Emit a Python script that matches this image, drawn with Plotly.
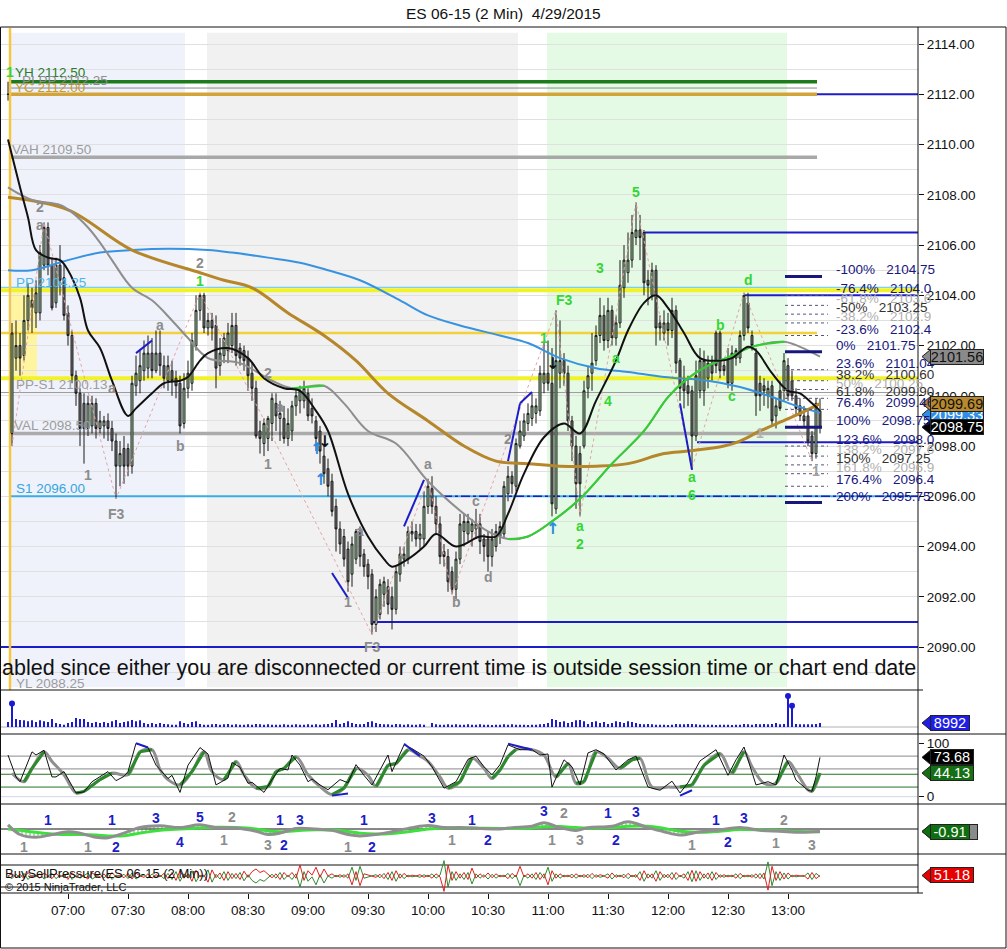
import pandas as pd
import plotly.graph_objects as go

DAY = "2015-04-29"
FIRST_BAR = "06:30"

# ---- 2 min bars, ES 06-15, first bar 06:30 (rows of 10 bars) ----
OPEN = [
    2112.0, 2098.5, 2101.5, 2102.0, 2101.6, 2103.0, 2103.8, 2103.3, 2103.3, 2105.2,
    2106.7, 2105.2, 2103.7, 2105.2, 2104.7, 2103.3, 2102.4, 2100.8, 2100.1, 2099.7,
    2098.7, 2098.8, 2099.7, 2098.7, 2098.8, 2099.0, 2098.7, 2098.2, 2097.2, 2097.9,
    2097.9, 2097.2, 2100.4, 2100.6, 2101.0, 2101.1, 2101.7, 2101.0, 2101.7, 2101.2,
    2100.6, 2101.0, 2100.7, 2100.5, 2098.9, 2100.3, 2100.5, 2102.0, 2103.4, 2104.0,
    2102.7, 2103.0, 2102.8, 2101.2, 2101.6, 2101.8, 2102.0, 2102.8, 2101.9, 2101.8,
    2101.5, 2100.9, 2100.3, 2098.6, 2098.1, 2098.3, 2098.9, 2099.7, 2099.1, 2099.1,
    2098.3, 2098.6, 2099.6, 2099.8, 2099.8, 2100.1, 2099.5, 2099.0, 2098.6, 2097.6,
    2097.1, 2096.6, 2095.6, 2094.7, 2094.4, 2093.9, 2092.9, 2093.5, 2094.6, 2093.7,
    2093.3, 2092.9, 2090.9, 2091.3, 2092.1, 2092.4, 2092.0, 2091.5, 2092.9, 2093.5,
    2093.5, 2094.5, 2094.6, 2094.3, 2094.3, 2095.6, 2096.3, 2095.6, 2094.9, 2093.8,
    2093.6, 2093.0, 2092.3, 2093.5, 2094.6, 2094.5, 2094.6, 2094.7, 2094.9, 2094.3,
    2094.3, 2093.6, 2094.0, 2094.4, 2094.5, 2096.1, 2096.8, 2096.4, 2098.0, 2098.4,
    2098.9, 2099.1, 2099.3, 2099.4, 2100.5, 2100.9, 2100.5, 2095.5, 2100.9, 2101.4,
    2100.9, 2099.0, 2098.0, 2097.7, 2098.0, 2100.3, 2100.9, 2101.4, 2102.4, 2103.2,
    2102.2, 2103.4, 2102.3, 2102.9, 2104.3, 2104.9, 2105.4, 2106.3, 2106.6, 2106.5,
    2104.6, 2104.0, 2105.0, 2102.9, 2102.5, 2102.9, 2102.6, 2103.4, 2101.4, 2100.6,
    2100.4, 2100.2, 2098.4, 2100.2, 2100.2, 2100.7, 2101.3, 2102.5, 2102.5, 2101.2,
    2101.5, 2100.5, 2101.5, 2101.5, 2102.4, 2103.7, 2102.4, 2101.7, 2100.5, 2100.4,
    2100.0, 2100.4, 2099.2, 2100.2, 2100.2, 2101.2, 2100.6, 2100.0, 2099.6, 2099.2,
    2099.2, 2098.4, 2097.7, 2099.4,
]
HIGH = [
    2112.5, 2102.9, 2103.0, 2102.5, 2104.0, 2104.5, 2104.3, 2104.6, 2106.0, 2106.9,
    2106.9, 2105.5, 2105.5, 2106.0, 2105.2, 2103.6, 2102.6, 2101.0, 2100.3, 2100.1,
    2100.0, 2100.0, 2099.9, 2099.4, 2099.2, 2099.3, 2099.0, 2098.5, 2098.2, 2098.4,
    2098.1, 2100.8, 2101.6, 2101.8, 2102.2, 2102.4, 2102.3, 2102.6, 2102.6, 2101.6,
    2101.6, 2101.4, 2101.0, 2100.8, 2100.9, 2101.4, 2102.5, 2104.0, 2104.1, 2104.1,
    2103.3, 2103.3, 2103.2, 2102.3, 2102.5, 2102.9, 2103.3, 2103.3, 2102.1, 2102.0,
    2101.8, 2101.3, 2100.6, 2099.0, 2099.1, 2099.2, 2100.1, 2100.1, 2099.8, 2099.6,
    2099.5, 2099.8, 2100.3, 2100.4, 2100.6, 2100.3, 2099.9, 2099.2, 2098.8, 2098.0,
    2097.5, 2096.9, 2095.9, 2095.0, 2094.7, 2094.2, 2094.4, 2094.7, 2094.8, 2093.9,
    2093.5, 2093.1, 2092.3, 2092.7, 2092.8, 2092.7, 2092.4, 2093.2, 2094.0, 2094.0,
    2094.8, 2095.0, 2094.9, 2094.9, 2096.2, 2096.7, 2096.8, 2096.0, 2095.2, 2094.1,
    2093.9, 2093.2, 2093.8, 2095.3, 2095.3, 2095.3, 2095.1, 2095.5, 2095.3, 2094.5,
    2094.6, 2094.7, 2094.9, 2095.0, 2096.6, 2097.2, 2097.0, 2098.3, 2099.0, 2099.3,
    2099.7, 2100.1, 2099.9, 2101.2, 2102.1, 2102.2, 2101.9, 2103.4, 2103.0, 2101.7,
    2101.2, 2099.2, 2098.4, 2098.0, 2100.6, 2101.2, 2102.5, 2102.8, 2103.9, 2103.6,
    2103.9, 2103.6, 2103.2, 2105.4, 2106.0, 2106.5, 2107.2, 2107.7, 2107.2, 2106.6,
    2105.0, 2105.3, 2105.2, 2103.2, 2103.4, 2103.3, 2103.9, 2103.6, 2101.5, 2101.2,
    2100.8, 2100.4, 2101.4, 2101.9, 2101.8, 2101.6, 2101.6, 2102.6, 2102.6, 2101.5,
    2101.9, 2102.0, 2101.9, 2102.6, 2104.1, 2104.1, 2102.6, 2101.9, 2100.8, 2100.7,
    2100.6, 2100.6, 2099.9, 2100.6, 2101.7, 2101.5, 2101.0, 2100.3, 2099.9, 2099.6,
    2099.5, 2098.6, 2099.9, 2099.9,
]
LOW = [
    2111.75, 2098.0, 2101.0, 2100.8, 2101.4, 2102.6, 2102.5, 2102.7, 2103.0, 2105.0,
    2104.8, 2103.4, 2103.5, 2104.0, 2103.0, 2102.0, 2100.5, 2099.6, 2098.0, 2097.3,
    2098.4, 2098.5, 2098.3, 2098.5, 2098.3, 2098.2, 2097.8, 2095.9, 2096.4, 2096.5,
    2096.8, 2096.9, 2100.0, 2100.1, 2100.6, 2100.7, 2100.7, 2100.9, 2100.8, 2100.3,
    2100.2, 2100.0, 2099.9, 2098.5, 2098.7, 2099.9, 2100.2, 2101.8, 2103.0, 2102.5,
    2102.4, 2102.2, 2100.3, 2100.8, 2101.3, 2101.3, 2101.7, 2101.2, 2101.2, 2101.0,
    2100.2, 2099.8, 2098.3, 2097.7, 2097.6, 2097.8, 2098.2, 2098.6, 2098.2, 2098.1,
    2098.0, 2098.2, 2099.2, 2099.3, 2099.5, 2099.0, 2098.9, 2097.8, 2097.3, 2096.5,
    2096.0, 2095.2, 2093.8, 2093.7, 2093.2, 2092.2, 2092.4, 2093.3, 2093.2, 2092.8,
    2092.3, 2090.5, 2090.6, 2091.1, 2091.6, 2091.3, 2090.7, 2091.3, 2092.6, 2093.2,
    2093.3, 2094.2, 2094.0, 2093.9, 2094.0, 2095.3, 2095.3, 2094.5, 2093.3, 2093.2,
    2092.2, 2092.1, 2091.9, 2093.3, 2094.0, 2094.2, 2094.0, 2094.3, 2093.7, 2093.4,
    2093.0, 2093.2, 2093.8, 2094.1, 2094.3, 2095.8, 2096.1, 2096.2, 2097.9, 2098.2,
    2098.6, 2098.8, 2098.9, 2099.2, 2100.1, 2100.2, 2095.2, 2095.3, 2100.3, 2100.4,
    2098.6, 2097.4, 2095.5, 2095.2, 2097.9, 2099.9, 2100.2, 2101.2, 2102.1, 2101.8,
    2101.9, 2102.0, 2102.0, 2102.7, 2103.9, 2104.5, 2105.1, 2106.0, 2105.4, 2104.0,
    2103.6, 2103.8, 2102.0, 2102.2, 2102.2, 2102.0, 2102.3, 2100.9, 2099.8, 2099.5,
    2099.6, 2097.1, 2098.2, 2099.9, 2099.6, 2100.3, 2100.6, 2100.9, 2100.7, 2100.8,
    2100.3, 2100.2, 2101.2, 2101.3, 2102.2, 2102.5, 2101.8, 2099.2, 2099.4, 2099.6,
    2099.5, 2098.8, 2098.7, 2099.4, 2099.8, 2099.8, 2099.8, 2099.2, 2099.0, 2098.8,
    2098.0, 2097.4, 2097.5, 2098.5,
]
CLOSE = [
    2112.0, 2102.5, 2102.0, 2101.5, 2103.0, 2104.0, 2103.5, 2104.1, 2105.7, 2106.7,
    2105.2, 2103.5, 2105.2, 2104.6, 2103.2, 2102.4, 2100.8, 2100.1, 2098.7, 2098.7,
    2099.7, 2099.7, 2098.7, 2099.0, 2099.0, 2098.7, 2098.2, 2097.2, 2097.7, 2097.2,
    2097.2, 2100.5, 2100.9, 2101.2, 2101.7, 2101.7, 2101.0, 2101.7, 2101.2, 2100.7,
    2101.2, 2100.6, 2100.4, 2098.8, 2100.3, 2100.9, 2102.2, 2103.4, 2104.0, 2102.7,
    2103.0, 2102.7, 2101.1, 2101.7, 2102.3, 2102.5, 2102.8, 2101.6, 2101.5, 2101.4,
    2100.8, 2100.3, 2098.4, 2098.3, 2098.9, 2099.1, 2099.9, 2099.2, 2099.3, 2098.3,
    2098.9, 2099.6, 2100.0, 2100.2, 2100.3, 2099.2, 2099.2, 2098.3, 2097.8, 2096.9,
    2096.4, 2095.4, 2094.7, 2094.1, 2093.5, 2092.6, 2094.1, 2094.6, 2093.6, 2093.2,
    2092.8, 2090.9, 2092.0, 2092.5, 2092.6, 2091.7, 2091.5, 2093.0, 2093.7, 2093.7,
    2094.6, 2094.6, 2094.3, 2094.5, 2095.6, 2096.4, 2095.6, 2094.9, 2093.6, 2093.6,
    2092.6, 2092.3, 2093.5, 2094.9, 2095.0, 2095.0, 2094.9, 2094.9, 2094.2, 2094.0,
    2093.6, 2094.3, 2094.6, 2094.8, 2096.4, 2096.8, 2096.5, 2098.1, 2098.6, 2099.0,
    2099.3, 2099.6, 2099.6, 2100.9, 2100.9, 2100.5, 2095.7, 2101.4, 2101.4, 2100.9,
    2099.0, 2098.0, 2096.5, 2096.5, 2100.2, 2100.8, 2101.3, 2102.4, 2103.2, 2102.2,
    2103.4, 2102.3, 2102.9, 2104.4, 2105.4, 2105.4, 2106.5, 2106.6, 2106.3, 2104.5,
    2104.4, 2105.0, 2102.7, 2102.7, 2102.9, 2102.6, 2103.4, 2101.3, 2100.3, 2100.2,
    2100.1, 2098.4, 2100.8, 2101.4, 2101.4, 2101.3, 2100.9, 2101.2, 2101.0, 2101.0,
    2100.5, 2101.7, 2101.8, 2102.4, 2104.0, 2102.7, 2102.0, 2100.0, 2100.0, 2100.2,
    2100.3, 2099.0, 2099.6, 2099.5, 2101.4, 2100.0, 2100.0, 2099.5, 2099.2, 2099.0,
    2098.2, 2097.7, 2099.7, 2098.75,
]
# volume per bar, thousands of contracts
VOLUME = [
    11, 50, 18, 16, 15, 13, 15, 11, 15, 13,
    11, 18, 9, 7, 5, 9, 11, 20, 18, 18,
    11, 9, 11, 9, 11, 9, 13, 16, 9, 11,
    13, 16, 13, 15, 9, 7, 9, 7, 9, 7,
    6, 5, 5, 13, 9, 7, 11, 13, 7, 5,
    5, 6, 7, 5, 6, 7, 5, 6, 5, 5,
    6, 5, 7, 6, 5, 6, 5, 5, 5, 6,
    5, 5, 6, 5, 5, 6, 5, 6, 5, 6,
    7, 9, 16, 7, 9, 13, 9, 7, 6, 7,
    11, 13, 9, 7, 6, 6, 5, 7, 6, 5,
    6, 5, 5, 6, 5, 0, 9, 6, 5, 5,
    6, 5, 6, 5, 5, 6, 5, 5, 6, 5,
    5, 4, 5, 5, 6, 5, 6, 5, 5, 5,
    4, 5, 5, 6, 7, 9, 18, 16, 11, 13,
    9, 11, 15, 16, 13, 7, 11, 13, 9, 11,
    7, 9, 13, 11, 9, 13, 11, 9, 7, 6,
    7, 6, 5, 5, 5, 4, 5, 7, 6, 6,
    7, 7, 6, 5, 5, 5, 5, 4, 5, 5,
    5, 4, 5, 5, 7, 6, 5, 7, 6, 7,
    6, 7, 9, 6, 7, 67, 45, 7, 6, 6,
    6, 6, 7, 9,
]
# BuySellPressure, red and green lines per bar
BSP_RED = [
    50, 56, 46, 54, 44, 58, 48, 52, 45, 57,
    50, 44, 56, 48, 53, 42, 58, 47, 55, 49,
    43, 57, 51, 46, 55, 44, 58, 48, 52, 46,
    56, 43, 57, 50, 47, 55, 45, 53, 48, 56,
    44, 58, 40, 62, 45, 55, 38, 63, 48, 52,
    36, 64, 46, 57, 40, 60, 44, 56, 42, 61,
    47, 60, 66, 58, 62, 54, 46, 55, 42, 58,
    48, 58, 45, 75, 40, 62, 52, 70, 47, 66,
    50, 55, 48, 53, 47, 55, 30, 60, 28, 55,
    52, 50, 47, 54, 44, 58, 40, 62, 45, 56,
    48, 52, 50, 53, 47, 52, 45, 55, 48, 15,
    75, 40, 60, 45, 58, 42, 68, 45, 55, 47,
    57, 46, 55, 48, 52, 44, 56, 48, 72, 48,
    55, 45, 58, 42, 55, 30, 62, 45, 55, 48,
    52, 46, 55, 48, 53, 46, 56, 47, 53, 50,
    45, 57, 47, 52, 46, 56, 48, 53, 40, 62,
    45, 55, 38, 60, 46, 54, 42, 58, 48, 55,
    40, 63, 38, 60, 45, 57, 40, 58, 47, 53,
    48, 52, 45, 56, 48, 52, 47, 55, 44, 57,
    18, 72, 40, 60, 43, 57, 48, 52, 50, 51,
    43, 58, 44, 51.18,
]
BSP_GREEN = [
    50, 44, 54, 46, 56, 42, 52, 48, 55, 43,
    50, 56, 44, 52, 47, 58, 42, 53, 45, 51,
    57, 43, 49, 54, 45, 56, 42, 52, 48, 54,
    44, 57, 43, 50, 53, 45, 55, 47, 52, 44,
    56, 42, 60, 38, 55, 45, 62, 37, 52, 48,
    64, 36, 54, 43, 60, 40, 56, 44, 58, 39,
    53, 40, 34, 42, 38, 46, 54, 45, 58, 42,
    52, 42, 55, 25, 60, 38, 48, 30, 53, 34,
    50, 45, 52, 47, 53, 45, 70, 40, 72, 45,
    48, 50, 53, 46, 56, 42, 60, 38, 55, 44,
    52, 48, 50, 47, 53, 48, 55, 45, 52, 85,
    25, 60, 40, 55, 42, 58, 32, 55, 45, 53,
    43, 54, 45, 52, 48, 56, 44, 52, 28, 52,
    45, 55, 42, 58, 45, 70, 38, 55, 45, 52,
    48, 54, 45, 52, 47, 54, 44, 53, 47, 50,
    55, 43, 53, 48, 54, 44, 52, 47, 60, 38,
    55, 45, 62, 40, 54, 46, 58, 42, 52, 45,
    60, 37, 62, 40, 55, 43, 60, 42, 53, 47,
    52, 48, 55, 44, 52, 48, 53, 45, 56, 43,
    82, 28, 60, 40, 57, 43, 52, 48, 50, 49,
    57, 42, 56, 48.82,
]

# ---- moving averages ----
BLACK_T = ["06:30", "06:36", "06:40", "06:44", "06:50", "06:56", "07:00", "07:06", "07:10", "07:16",
           "07:22", "07:30", "07:34", "07:42", "07:48", "07:56", "08:00", "08:06", "08:10", "08:20",
           "08:30", "08:38", "08:48", "08:56", "09:04", "09:10", "09:20", "09:30", "09:38", "09:42",
           "09:50", "09:58", "10:04", "10:14", "10:26", "10:34", "10:40", "10:48", "10:58", "11:08",
           "11:16", "11:24", "11:34", "11:40", "11:48", "11:54", "12:00", "12:08", "12:16", "12:26",
           "12:32", "12:40", "12:44", "12:52", "13:00", "13:06", "13:12", "13:16"]
BLACK_V = [2110.2, 2108.3, 2107.1, 2105.8, 2105.5, 2105.4, 2105.0, 2103.9, 2102.6, 2101.9,
           2100.6, 2099.2, 2099.5, 2100.1, 2100.5, 2100.6, 2100.75, 2101.4, 2101.7, 2101.9,
           2101.5, 2100.7, 2100.3, 2100.2, 2099.4, 2098.6, 2096.1, 2094.4, 2093.5, 2093.2,
           2093.5, 2094.0, 2094.5, 2094.0, 2094.4, 2094.4, 2095.3, 2096.9, 2098.35, 2098.9,
           2098.5, 2099.8, 2101.4, 2102.6, 2103.7, 2104.0, 2103.5, 2102.5, 2101.5, 2101.4,
           2101.5, 2101.95, 2101.8, 2100.9, 2100.2, 2100.1, 2099.7, 2099.4]
MID_T = ["06:30", "06:42", "06:56", "07:02", "07:10", "07:16", "07:22", "07:32", "07:42", "07:52",
         "08:00", "08:10", "08:26", "08:42", "08:52", "09:08", "09:18", "09:30", "09:44", "10:00",
         "10:18", "10:30", "10:40", "10:50", "11:02", "11:16", "11:32", "11:48", "12:00", "12:10",
         "12:20", "12:32", "12:42", "12:58", "13:06", "13:16"]
MID_V = [2108.3, 2107.8, 2107.6, 2107.3, 2106.7, 2106.1, 2105.4, 2104.3, 2103.8, 2103.0,
         2102.3, 2101.5, 2101.3, 2100.6, 2100.3, 2100.4, 2099.7, 2098.6, 2098.1, 2096.6,
         2095.3, 2094.6, 2094.3, 2094.4, 2095.0, 2095.9, 2097.3, 2098.6, 2099.95, 2100.7,
         2101.2, 2101.6, 2101.95, 2102.15, 2101.95, 2101.56]
MID_GREEN_SPANS = [("08:52", "09:08"), ("10:40", "12:58")]
SLOW_T = ["06:30", "07:00", "07:32", "08:06", "08:18", "08:32", "08:50", "09:08", "09:24", "09:40",
          "10:00", "10:18", "10:34", "10:50", "11:06", "11:24", "11:40", "11:58", "12:10", "12:28",
          "12:36", "12:46", "12:56", "13:06", "13:16"]
SLOW_V = [2107.9, 2107.4, 2105.8, 2104.9, 2104.6, 2104.3, 2103.3, 2102.4, 2101.4, 2100.1,
          2099.0, 2098.0, 2097.4, 2097.3, 2097.2, 2097.2, 2097.3, 2097.7, 2097.8, 2098.0,
          2098.2, 2098.6, 2098.95, 2099.3, 2099.69]
BLUE_T = ["06:30", "06:42", "07:00", "07:16", "07:32", "07:50", "08:10", "08:22", "08:40", "08:56",
          "09:10", "09:26", "09:46", "10:00", "10:16", "10:36", "10:50", "11:06", "11:24", "11:40",
          "11:58", "12:20", "12:36", "12:52", "13:06", "13:16"]
BLUE_V = [2105.0, 2105.0, 2105.4, 2105.7, 2105.8, 2105.85, 2105.8, 2105.7, 2105.5, 2105.3,
          2105.0, 2104.6, 2103.8, 2103.2, 2102.8, 2102.4, 2102.1, 2101.5, 2101.1, 2100.95,
          2100.75, 2100.6, 2100.35, 2099.95, 2099.55, 2099.33]

# ---- stochastics ----
FAST_T = ["06:30", "06:34", "06:36", "06:42", "06:44", "06:48", "06:52", "06:54", "06:58", "07:04",
          "07:08", "07:12", "07:20", "07:24", "07:28", "07:30", "07:34", "07:40", "07:44", "07:50",
          "07:52", "07:56", "08:00", "08:06", "08:10", "08:14", "08:20", "08:22", "08:26", "08:30",
          "08:32", "08:38", "08:42", "08:46", "08:50", "08:52", "08:56", "09:00", "09:02", "09:06",
          "09:10", "09:16", "09:20", "09:24", "09:28", "09:32", "09:40", "09:42", "09:48", "09:52",
          "09:58", "10:02", "10:08", "10:14", "10:20", "10:24", "10:28", "10:32", "10:36", "10:40",
          "10:46", "10:52", "10:56", "11:00", "11:02", "11:08", "11:12", "11:16", "11:20", "11:24",
          "11:28", "11:34", "11:40", "11:44", "11:50", "11:56", "12:02", "12:06", "12:10", "12:16",
          "12:24", "12:30", "12:34", "12:38", "12:44", "12:50", "12:54", "12:58", "13:02", "13:04",
          "13:10", "13:12", "13:14", "13:16"]
FAST_V = [78, 37, 28, 84, 78, 87, 37, 37, 47, 7,
          9, 28, 47, 30, 38, 47, 100, 92, 59, 34,
          40, 8, 59, 92, 80, 22, 35, 64, 55, 25,
          27, 8, 32, 53, 50, 78, 59, 28, 33, 22,
          13, 32, 26, 60, 40, 22, 78, 47, 97, 90,
          76, 56, 16, 28, 70, 76, 56, 41, 60, 97,
          88, 88, 78, 80, 18, 69, 56, 22, 82, 88,
          80, 50, 69, 76, 18, 12, 29, 7, 26, 67,
          88, 40, 69, 93, 22, 28, 22, 78, 50, 31,
          12, 10, 37, 73.68]
SLOWK_T = ["06:32", "06:38", "06:42", "06:48", "06:52", "06:58", "07:04", "07:08", "07:16", "07:22",
           "07:30", "07:36", "07:42", "07:46", "07:50", "07:56", "08:02", "08:08", "08:12", "08:18",
           "08:24", "08:28", "08:34", "08:40", "08:44", "08:48", "08:54", "09:00", "09:06", "09:12",
           "09:18", "09:24", "09:30", "09:34", "09:40", "09:44", "09:50", "09:56", "10:00", "10:06",
           "10:10", "10:16", "10:22", "10:28", "10:32", "10:36", "10:40", "10:44", "10:52", "10:58",
           "11:04", "11:10", "11:14", "11:18", "11:24", "11:30", "11:36", "11:42", "11:46", "11:52",
           "12:00", "12:06", "12:12", "12:18", "12:26", "12:32", "12:38", "12:42", "12:48", "12:54",
           "13:00", "13:04", "13:10", "13:12", "13:16"]
SLOWK_V = [44, 28, 53, 84, 66, 41, 7, 10, 32, 44,
           41, 84, 88, 51, 32, 22, 47, 84, 47, 32,
           66, 41, 16, 19, 47, 53, 75, 41, 19, 4,
           16, 53, 40, 19, 59, 62, 88, 76, 66, 37,
           16, 28, 72, 53, 34, 50, 75, 88, 88, 78,
           37, 62, 25, 28, 84, 72, 53, 69, 72, 18,
           18, 18, 22, 59, 81, 44, 84, 56, 25, 25,
           66, 47, 13, 10, 44.13]
STOCH_LEVELS_GRAY = [76, 52]
STOCH_LEVELS_GREEN = [42, 18]

# ---- MACD style panel ----
MACD_T = ["06:30", "06:36", "06:44", "06:52", "07:00", "07:06", "07:14", "07:20", "07:28", "07:36",
          "07:46", "07:56", "08:06", "08:14", "08:24", "08:34", "08:40", "08:46", "08:54", "09:04",
          "09:12", "09:20", "09:26", "09:34", "09:42", "09:52", "10:00", "10:08", "10:16", "10:26",
          "10:36", "10:42", "10:52", "10:58", "11:06", "11:14", "11:20", "11:32", "11:40", "11:50",
          "11:58", "12:06", "12:16", "12:24", "12:36", "12:46", "12:56", "13:06", "13:16"]
MACD_V = [1.5, -2.0, -3.0, -2.0, -1.0, -1.5, -3.0, -3.2, -1.5, 0.6,
          1.2, 0.5, 1.5, 0.5, 0.4, -0.8, -2.0, -1.5, 0.2, 0.0,
          -0.5, -2.0, -2.5, -2.0, -1.0, 0.5, 1.3, 0.5, 0.5, 0.2,
          0.0, 0.5, 1.0, 2.3, 0.5, -0.5, 0.5, 1.0, 2.6, 0.5,
          -1.0, -2.2, -1.0, -0.5, 0.5, -0.5, -0.8, -1.2, -0.91]
SIGNAL_V = [0.0, -0.5, -1.2, -1.8, -2.0, -2.0, -2.2, -2.5, -2.5, -1.5,
            -0.5, 0.0, 0.4, 0.6, 0.5, 0.0, -0.7, -1.0, -0.6, -0.3,
            -0.4, -0.9, -1.5, -1.8, -1.6, -0.8, 0.0, 0.4, 0.4, 0.3,
            0.2, 0.2, 0.4, 0.8, 0.9, 0.5, 0.3, 0.5, 1.0, 1.0,
            0.2, -0.8, -1.2, -0.9, -0.2, -0.3, -0.6, -0.9, -1.0]

# ---- swing zigzag and trend segments ----
SWING_T = ["06:32", "06:48", "07:24", "08:06", "09:32", "10:00", "10:12", "11:04", "11:16",
           "11:44", "12:12", "12:38", "13:12"]
SWING_P = [2098.0, 2106.9, 2095.9, 2104.1, 2090.5, 2096.7, 2092.1, 2103.4, 2095.2,
           2107.7, 2097.1, 2104.1, 2097.4]
TREND_T0 = ["07:34", "09:12", "09:48", "10:40", "10:46", "12:06"]
TREND_P0 = [2101.7, 2092.95, 2094.8, 2097.4, 2099.7, 2099.7]
TREND_T1 = ["07:42", "09:20", "09:58", "10:46", "10:52", "12:12"]
TREND_P1 = [2102.2, 2091.95, 2096.65, 2099.7, 2100.15, 2097.05]

# ---- fibonacci block on the right ----
FIB_PCT = ["-100%", "-76.4%", "-61.8%", "-50%", "-38.2%", "-23.6%", "0%", "23.6%", "38.2%", "50%",
           "61.8%", "76.4%", "100%", "123.6%", "138.2%", "150%", "161.8%", "176.4%", "200%"]
FIB_VAL = ["2104.75", "2104.0", "2103.6", "2103.25", "2102.9", "2102.4", "2101.75", "2101.04", "2100.60",
           "2100.25", "2099.90", "2099.46", "2098.75", "2098.0", "2097.6", "2097.25", "2096.9", "2096.4",
           "2095.75"]
FIB_MAIN = ["-100%", "0%", "100%", "200%"]
FIB_LIGHT = ["-61.8%", "-38.2%", "50%", "138.2%", "161.8%"]
FIB_DARK = ["-50%", "38.2%", "61.8%", "150%"]

TICK_LABELS = ["07:00", "07:30", "08:00", "08:30", "09:00", "09:30", "10:00", "10:30",
               "11:00", "11:30", "12:00", "12:30", "13:00"]

FONT = "Liberation Sans, Arial, sans-serif"
NAVY = "#17177e"
LINE_BLUE = "#1c1cc8"
GRAY_TXT = "#8c8c8c"
LGREEN = "#33d633"
START, END = "06:26", "14:05"
NB = "\u00a0"


def T(hm):
    return f"{DAY} {hm}"


def Ts(lst):
    return [T(h) for h in lst]


bar_times = pd.date_range(T(FIRST_BAR), periods=len(CLOSE), freq="2min")

# page geometry (pixels)
W, H = 1007, 949
PLOT_R = 918
TOP_PX, BOT_PX = 28, 893

# panel pixel bands and value ranges (top px, bottom px, low, high)
PANELS = {
    "y": (28, 690, 2088.29, 2114.64),
    "y2": (690, 734, -15.75, 83.25),
    "y3": (734, 804, -13.7, 117.4),
    "y4": (804, 854, -9.09, 9.09),
    "y5": (854, 893, 11.4, 100.0),
}


def py(p):
    return (BOT_PX - p) / (BOT_PX - TOP_PX)


def px(p):
    return p / PLOT_R


def val_px(ax, v):
    top, bot, lo, hi = PANELS[ax]
    return bot - (v - lo) * (bot - top) / (hi - lo)


def hline(yref, v, color, width=1, dash="solid", x0=START, x1=END, layer="between"):
    fig.add_shape(type="line", xref="x", yref=yref, x0=T(x0), x1=T(x1), y0=v, y1=v,
                  line=dict(color=color, width=width, dash=dash), layer=layer)


def paper_text(x, y, text, size, color="#111111", xanchor="center"):
    fig.add_annotation(xref="paper", yref="paper", x=px(x), y=py(y), text=text, showarrow=False,
                       xanchor=xanchor, yanchor="middle", font=dict(size=size, color=color, family=FONT))


fig = go.Figure()

# ── main panel ─────────────────────────────────────────────
fig.add_trace(go.Scatter(x=Ts(SWING_T), y=SWING_P, mode="lines",
                         line=dict(color="#e4a4a4", width=1, dash="dot"), yaxis="y"))
fig.add_trace(go.Candlestick(
    x=bar_times, open=OPEN, high=HIGH, low=LOW, close=CLOSE, whiskerwidth=0,
    increasing=dict(fillcolor="#a2dba2", line=dict(color="#1a1a1a", width=1)),
    decreasing=dict(fillcolor="#787878", line=dict(color="#1a1a1a", width=1)),
    yaxis="y"))
fig.add_trace(go.Scatter(x=Ts(BLUE_T), y=BLUE_V, mode="lines", line_shape="spline",
                         line=dict(color="#3793e0", width=2), yaxis="y"))
fig.add_trace(go.Scatter(x=Ts(SLOW_T), y=SLOW_V, mode="lines", line_shape="spline",
                         line=dict(color="#b5862a", width=3), yaxis="y"))
fig.add_trace(go.Scatter(x=Ts(MID_T), y=MID_V, mode="lines", line_shape="spline",
                         line=dict(color="#8e8e8e", width=2), yaxis="y"))
for a, b in MID_GREEN_SPANS:
    idx = [i for i, t in enumerate(MID_T) if a <= t <= b]
    fig.add_trace(go.Scatter(x=[T(MID_T[i]) for i in idx], y=[MID_V[i] for i in idx],
                             mode="lines", line_shape="spline",
                             line=dict(color="#2fd02f", width=2), yaxis="y"))
fig.add_trace(go.Scatter(x=Ts(BLACK_T), y=BLACK_V, mode="lines", line_shape="spline",
                         line=dict(color="#111111", width=2), yaxis="y"))
for t0, p0, t1, p1 in zip(TREND_T0, TREND_P0, TREND_T1, TREND_P1):
    fig.add_trace(go.Scatter(x=[T(t0), T(t1)], y=[p0, p1], mode="lines",
                             line=dict(color=LINE_BLUE, width=2), yaxis="y"))

# background sessions
for a, b, c in [("06:31", "07:58:30", "#eff2fb"), ("08:09:30", "10:45", "#f1f1f1"),
                ("10:59:30", "12:59:30", "#e5fae5")]:
    fig.add_shape(type="rect", xref="x", yref="y", x0=T(a), x1=T(b), y0=2088.4, y1=2114.45,
                  fillcolor=c, line_width=0, layer="below")
fig.add_shape(type="rect", xref="x", yref="y", x0=T("06:32"), x1=T("06:44:30"), y0=2100.7, y1=2104.2,
              fillcolor="#fff4a0", line_width=0, layer="below")

# horizontal levels
LEVELS = [
    (2112.5, "06:31", "13:14:30", "#1d7a1d", 3.5, "solid"),
    (2112.25, "06:31", "13:14:30", "#8a8a8a", 1, "solid"),
    (2112.0, "06:31", "13:14:30", "#d3a43a", 3.5, "solid"),
    (2112.0, "13:14:30", END, LINE_BLUE, 2, "solid"),
    (2109.5, "06:31", "13:14:30", "#a8a8a8", 3.5, "solid"),
    (2106.5, "11:48:30", END, LINE_BLUE, 2, "solid"),
    (2104.32, START, END, "#5cc3ee", 1, "solid"),
    (2104.2, START, END, "#f2f22a", 4, "solid"),
    (2104.0, "12:38:30", END, LINE_BLUE, 2, "solid"),
    (2102.5, START, "13:14:30", "#f3d13a", 2.5, "solid"),
    (2100.7, START, END, "#f2f22a", 4, "solid"),
    (2100.13, START, END, "#9a9a9a", 1, "solid"),
    (2098.5, "06:31", "13:14:30", "#ababab", 3.5, "solid"),
    (2098.15, "12:14:30", END, LINE_BLUE, 2, "solid"),
    (2096.0, "06:31", END, "#39ace4", 2, "solid"),
    (2096.0, "10:07:30", END, LINE_BLUE, 1.5, "dashdot"),
    (2091.0, "09:32", END, LINE_BLUE, 2, "solid"),
    (2090.0, START, END, LINE_BLUE, 2, "solid"),
]
for p, a, b, c, w, d in LEVELS:
    hline("y", p, c, w, d, a, b)
fig.add_shape(type="line", xref="x", yref="y", x0=T("06:31"), x1=T("06:31"), y0=2088.29, y1=2114.64,
              line=dict(color="#f6c640", width=2.5), layer="between")

# level captions
for txt, t, p, c in [("YH 2112.50", "06:32:30", 2112.86, "#2c7c2c"),
                     ("PI PP 2112.25", "06:36", 2112.55, "#8c8c8c"),
                     ("YC 2112.00", "06:32:30", 2112.27, "#c89a30"),
                     ("VAH 2109.50", "06:31", 2109.8, "#9c9c9c"),
                     ("PP 2104.25", "06:33", 2104.5, "#4db6e6"),
                     ("PP-S1 2100.13", "06:33", 2100.47, "#9c9c9c"),
                     ("VAL 2098.50", "06:32", 2098.8, "#9c9c9c"),
                     ("S1 2096.00", "06:33", 2096.3, "#36a6e0"),
                     ("YL 2088.25", "06:33", 2088.55, "#9c9c9c")]:
    fig.add_annotation(x=T(t), y=p, xref="x", yref="y", text=txt, showarrow=False,
                       xanchor="left", yanchor="middle", font=dict(size=13.5, color=c, family=FONT))

# fib block
for pct, val in zip(FIB_PCT, FIB_VAL):
    p = float(val)
    if pct in FIB_MAIN:
        hline("y", p, NAVY, 3, "solid", "12:58:30", "13:17", "above")
    else:
        hline("y", p, "#555577", 1, "dot", "12:58:30", "13:20", "above")
    c = "#b0b0b0" if pct in FIB_LIGHT else ("#333333" if pct in FIB_DARK else NAVY)
    fig.add_annotation(x=T("13:23"), y=p, xref="x", yref="y", text=f"{pct}{NB * 3}{val}",
                       showarrow=False, xanchor="left", yanchor="bottom", yshift=-3,
                       font=dict(size=13.5, color=c, family=FONT))

# wave labels
WAVES = [("06:31", 2112.9, "1", LGREEN), ("06:46", 2107.5, "2", GRAY_TXT), ("06:46", 2106.8, "a", GRAY_TXT),
         ("07:10", 2096.85, "1", GRAY_TXT), ("07:22", 2100.3, "a", GRAY_TXT), ("07:24", 2095.3, "F3", GRAY_TXT),
         ("07:46", 2102.8, "a", GRAY_TXT), ("07:56", 2098.0, "b", GRAY_TXT), ("08:06", 2105.3, "2", GRAY_TXT),
         ("08:06", 2104.55, "1", LGREEN), ("08:40", 2100.9, "2", GRAY_TXT), ("08:46", 2099.55, "a", GRAY_TXT),
         ("08:40", 2097.3, "1", GRAY_TXT), ("09:20", 2091.8, "1", GRAY_TXT), ("09:26", 2094.6, "a", GRAY_TXT),
         ("09:32", 2090.0, "F3", GRAY_TXT), ("10:00", 2097.3, "a", GRAY_TXT), ("10:14", 2091.8, "b", GRAY_TXT),
         ("10:24", 2095.8, "c", GRAY_TXT), ("10:30", 2092.8, "d", GRAY_TXT), ("10:40", 2098.3, "2", GRAY_TXT),
         ("10:58", 2102.3, "1", LGREEN), ("11:08", 2103.8, "F3", LGREEN), ("11:26", 2105.1, "3", LGREEN),
         ("11:44", 2108.1, "5", LGREEN), ("11:34", 2101.5, "a", LGREEN), ("11:30", 2099.8, "4", LGREEN),
         ("11:16", 2094.8, "a", LGREEN), ("11:16", 2094.1, "2", LGREEN), ("12:12", 2096.75, "a", LGREEN),
         ("12:12", 2096.05, "6", LGREEN), ("12:26", 2102.8, "b", LGREEN), ("12:32", 2100.0, "c", LGREEN),
         ("12:40", 2104.6, "d", LGREEN), ("12:46", 2098.5, "1", "#b0b0b0"), ("13:14", 2097.0, "1", "#a0a0a0")]
for t, p, s, c in WAVES:
    fig.add_annotation(x=T(t), y=p, xref="x", yref="y", text=f"<b>{s}</b>", showarrow=False,
                       font=dict(size=14, color=c, family=FONT))
for t, p, s, c in [("09:08", 2098.2, "↓", "#111111"), ("09:04", 2097.9, "↑", "#2a8ae0"),
                   ("09:06", 2096.65, "↑", "#2a8ae0"), ("11:02", 2094.7, "↑", "#2a8ae0"),
                   ("11:02", 2101.3, "↓", "#111111")]:
    fig.add_annotation(x=T(t), y=p, xref="x", yref="y", text=f"<b>{s}</b>", showarrow=False,
                       font=dict(size=16, color=c, family="DejaVu Sans"))

# ── volume panel ───────────────────────────────────────────
hline("y2", 0, "#b0b0b0")
fig.add_trace(go.Bar(x=bar_times, y=VOLUME, width=45000, marker=dict(color="#1a1ad2", line_width=0),
                     yaxis="y2"))
big = [i for i, v in enumerate(VOLUME) if v > 40]
fig.add_trace(go.Scatter(x=[bar_times[i] for i in big], y=[VOLUME[i] + 3 for i in big], mode="markers",
                         marker=dict(color="#1a1ad2", size=6), yaxis="y2"))

# ── stochastics ────────────────────────────────────────────
for lv in STOCH_LEVELS_GRAY:
    hline("y3", lv, "#8a8a8a")
for lv in STOCH_LEVELS_GREEN:
    hline("y3", lv, "#237523")
hline("y3", 0, "#d4d4e8")
fig.add_trace(go.Scatter(x=Ts(SLOWK_T), y=SLOWK_V, mode="lines", line_shape="spline",
                         line=dict(color="#8f8f8f", width=3), yaxis="y3"))
gx, gy = [], []
for i in range(len(SLOWK_V) - 1):
    if SLOWK_V[i + 1] > SLOWK_V[i]:
        gx += [T(SLOWK_T[i]), T(SLOWK_T[i + 1]), None]
        gy += [SLOWK_V[i], SLOWK_V[i + 1], None]
fig.add_trace(go.Scatter(x=gx, y=gy, mode="lines", line=dict(color="#2b8a2b", width=3), yaxis="y3"))
fig.add_trace(go.Scatter(x=Ts(FAST_T), y=FAST_V, mode="lines",
                         line=dict(color="#111111", width=1), yaxis="y3"))
for t0, v0, t1, v1 in [("07:34", 100, "07:40", 92), ("09:12", 2, "09:20", 6), ("09:48", 99, "09:56", 76),
                       ("10:40", 99, "10:52", 88), ("12:06", 2, "12:12", 12)]:
    fig.add_trace(go.Scatter(x=[T(t0), T(t1)], y=[v0, v1], mode="lines",
                             line=dict(color=LINE_BLUE, width=2), yaxis="y3"))

# ── MACD panel ─────────────────────────────────────────────
hline("y4", 0, "#111111")
fig.add_trace(go.Scatter(x=Ts(MACD_T), y=SIGNAL_V, mode="lines", line_shape="spline",
                         line=dict(color="#3ee03e", width=3), yaxis="y4"))
fig.add_trace(go.Scatter(x=Ts(MACD_T), y=MACD_V, mode="lines", line_shape="spline",
                         line=dict(color="#8f8f8f", width=3), fill="tonexty",
                         fillcolor="rgba(0,0,0,0)",
                         fillpattern=dict(shape="|", fgcolor="#2f8f2f", bgcolor="rgba(0,0,0,0)",
                                          size=4, solidity=0.35),
                         yaxis="y4"))
MACD_LABELS = [("06:50", 3.3, "1", LINE_BLUE), ("07:22", 3.3, "1", LINE_BLUE), ("07:44", 4.0, "3", LINE_BLUE),
               ("08:06", 4.4, "5", LINE_BLUE), ("08:22", 4.4, "2", GRAY_TXT), ("08:46", 3.3, "1", LINE_BLUE),
               ("08:56", 3.3, "3", LINE_BLUE), ("09:28", 3.3, "1", LINE_BLUE), ("10:02", 4.0, "3", LINE_BLUE),
               ("10:22", 3.3, "1", LINE_BLUE), ("10:58", 6.5, "3", LINE_BLUE), ("11:08", 5.8, "2", GRAY_TXT),
               ("11:30", 5.8, "1", LINE_BLUE), ("11:44", 6.2, "3", LINE_BLUE), ("12:24", 3.3, "1", LINE_BLUE),
               ("12:38", 4.0, "3", LINE_BLUE), ("12:58", 3.3, "2", GRAY_TXT),
               ("06:38", -6.5, "1", GRAY_TXT), ("07:10", -6.5, "1", GRAY_TXT), ("07:24", -6.5, "2", LINE_BLUE),
               ("07:56", -4.7, "4", LINE_BLUE), ("08:18", -4.0, "1", GRAY_TXT), ("08:40", -5.8, "3", GRAY_TXT),
               ("08:48", -5.8, "2", LINE_BLUE), ("09:20", -6.5, "1", GRAY_TXT), ("09:32", -6.5, "2", LINE_BLUE),
               ("10:12", -4.0, "1", GRAY_TXT), ("10:30", -4.0, "2", LINE_BLUE), ("11:02", -4.0, "1", GRAY_TXT),
               ("11:16", -4.0, "3", GRAY_TXT), ("11:34", -4.0, "2", LINE_BLUE), ("12:12", -5.8, "1", GRAY_TXT),
               ("12:30", -4.7, "2", LINE_BLUE), ("12:54", -5.1, "1", GRAY_TXT), ("13:12", -5.8, "3", GRAY_TXT)]
for t, v, s, c in MACD_LABELS:
    fig.add_annotation(x=T(t), y=v, xref="x", yref="y4", text=f"<b>{s}</b>", showarrow=False,
                       font=dict(size=14, color=c, family=FONT))

# ── BuySellPressure ────────────────────────────────────────
for lv in (75, 25):
    hline("y5", lv, "#111111")
fig.add_trace(go.Scatter(x=bar_times, y=BSP_GREEN, mode="lines", line=dict(color="#2e8b2e", width=1),
                         yaxis="y5"))
fig.add_trace(go.Scatter(x=bar_times, y=BSP_RED, mode="lines", line=dict(color="#e02020", width=1),
                         yaxis="y5"))
paper_text(3, 873, "BuySellPressure(ES 06-15 (2 Min))", 13, xanchor="left")
paper_text(3, 887, "© 2015 NinjaTrader, LLC", 11, xanchor="left")


# ── value tags on the right ────────────────────────────────
def tag(ax, val, text, bg, fg, width):
    yc = val_px(ax, val)
    fig.add_shape(type="path", xref="paper", yref="paper", layer="above",
                  path=f"M {px(922)},{py(yc)} L {px(931)},{py(yc - 7.5)} L {px(931)},{py(yc + 7.5)} Z",
                  fillcolor=bg, line=dict(color="#222222", width=1))
    fig.add_annotation(xref="paper", yref="paper", x=px(930), y=py(yc), xanchor="left", yanchor="middle",
                       text=text, showarrow=False, width=width, height=14, bgcolor=bg,
                       bordercolor="#222222", borderwidth=1, borderpad=0, align="center",
                       font=dict(size=14.5, color=fg, family=FONT))


tag("y", 2101.56, "2101.56", "#8a8a8a", "#111111", 52)
tag("y", 2099.25, "2099.33", "#2f8fe8", "white", 52)
tag("y", 2099.69, "2099.69", "#b8892e", "#111111", 52)
tag("y", 2098.75, "2098.75", "#000000", "white", 52)
tag("y2", 8.992, "8992", "#1e1ee6", "white", 38)
tag("y3", 73.68, "73.68", "#000000", "white", 42)
tag("y3", 44.13, "44.13", "#157015", "white", 42)
tag("y4", -0.91, "-0.83", "#8a8a8a", "#111111", 46)
tag("y4", -0.91, "-0.91", "#0f6e0f", "white", 38)
tag("y5", 51.18, "51.18", "#e60000", "white", 42)

# ── frame / separators ────────────────────────────────────
fig.add_shape(type="rect", xref="paper", yref="paper", x0=px(0.5), x1=px(1006), y0=py(948), y1=py(27),
              line=dict(color="#111111", width=1), layer="above")
for yy, xr in [(690, 923), (734, 1006), (804, 1006), (854, 1006), (893, 923)]:
    fig.add_shape(type="line", xref="paper", yref="paper", x0=0, x1=px(xr), y0=py(yy), y1=py(yy),
                  line=dict(color="#111111", width=1), layer="above")
fig.add_shape(type="line", xref="paper", yref="paper", x0=1, x1=1, y0=py(893), y1=py(27),
              line=dict(color="#111111", width=1), layer="above")

paper_text(503, 13, f"ES 06-15 (2 Min){NB * 2}4/29/2015", 15.5)
paper_text(0, 668, "abled since either you are disconnected or current time is outside session time "
                   "or chart end date", 21.5, xanchor="left")

axis_common = dict(showgrid=False, zeroline=False, showline=False, fixedrange=True, anchor="x")
fig.update_layout(
    width=W, height=H, margin=dict(l=0, r=W - PLOT_R, t=TOP_PX, b=H - BOT_PX),
    paper_bgcolor="white", plot_bgcolor="white", showlegend=False, hovermode=False,
    font=dict(family=FONT, size=12, color="#111111"),
    xaxis=dict(type="date", domain=[0, 1], anchor="y5", range=[T(START), T(END)],
               tickmode="array", tickvals=Ts(TICK_LABELS), ticktext=TICK_LABELS,
               ticks="outside", ticklen=5, tickcolor="#111111", tickfont=dict(size=13.5),
               showgrid=False, zeroline=False, showline=False, fixedrange=True,
               rangeslider=dict(visible=False)),
    yaxis=dict(domain=[py(690), 1], range=list(PANELS["y"][2:]), side="right", anchor="x",
               tick0=2090, dtick=2, tickformat=".2f", ticks="outside", ticklen=5, tickcolor="#111111",
               tickfont=dict(size=13.5), showgrid=True, gridcolor="#e0e0e0",
               minor=dict(dtick=1, showgrid=True, gridcolor="#e0e0e0"),
               zeroline=False, showline=False, fixedrange=True),
    yaxis2=dict(domain=[py(734), py(690)], range=list(PANELS["y2"][2:]), showticklabels=False, **axis_common),
    yaxis3=dict(domain=[py(804), py(734)], range=list(PANELS["y3"][2:]), side="right", tickmode="array",
                tickvals=[0, 100], ticktext=["0", "100"], ticks="outside", ticklen=5, tickcolor="#111111",
                tickfont=dict(size=13.5), **axis_common),
    yaxis4=dict(domain=[py(854), py(804)], range=list(PANELS["y4"][2:]), showticklabels=False, **axis_common),
    yaxis5=dict(domain=[0, py(854)], range=list(PANELS["y5"][2:]), showticklabels=False, **axis_common),
)

fig.write_html("out.html", config={"displayModeBar": False},
               post_script="document.body.style.margin='0';")
